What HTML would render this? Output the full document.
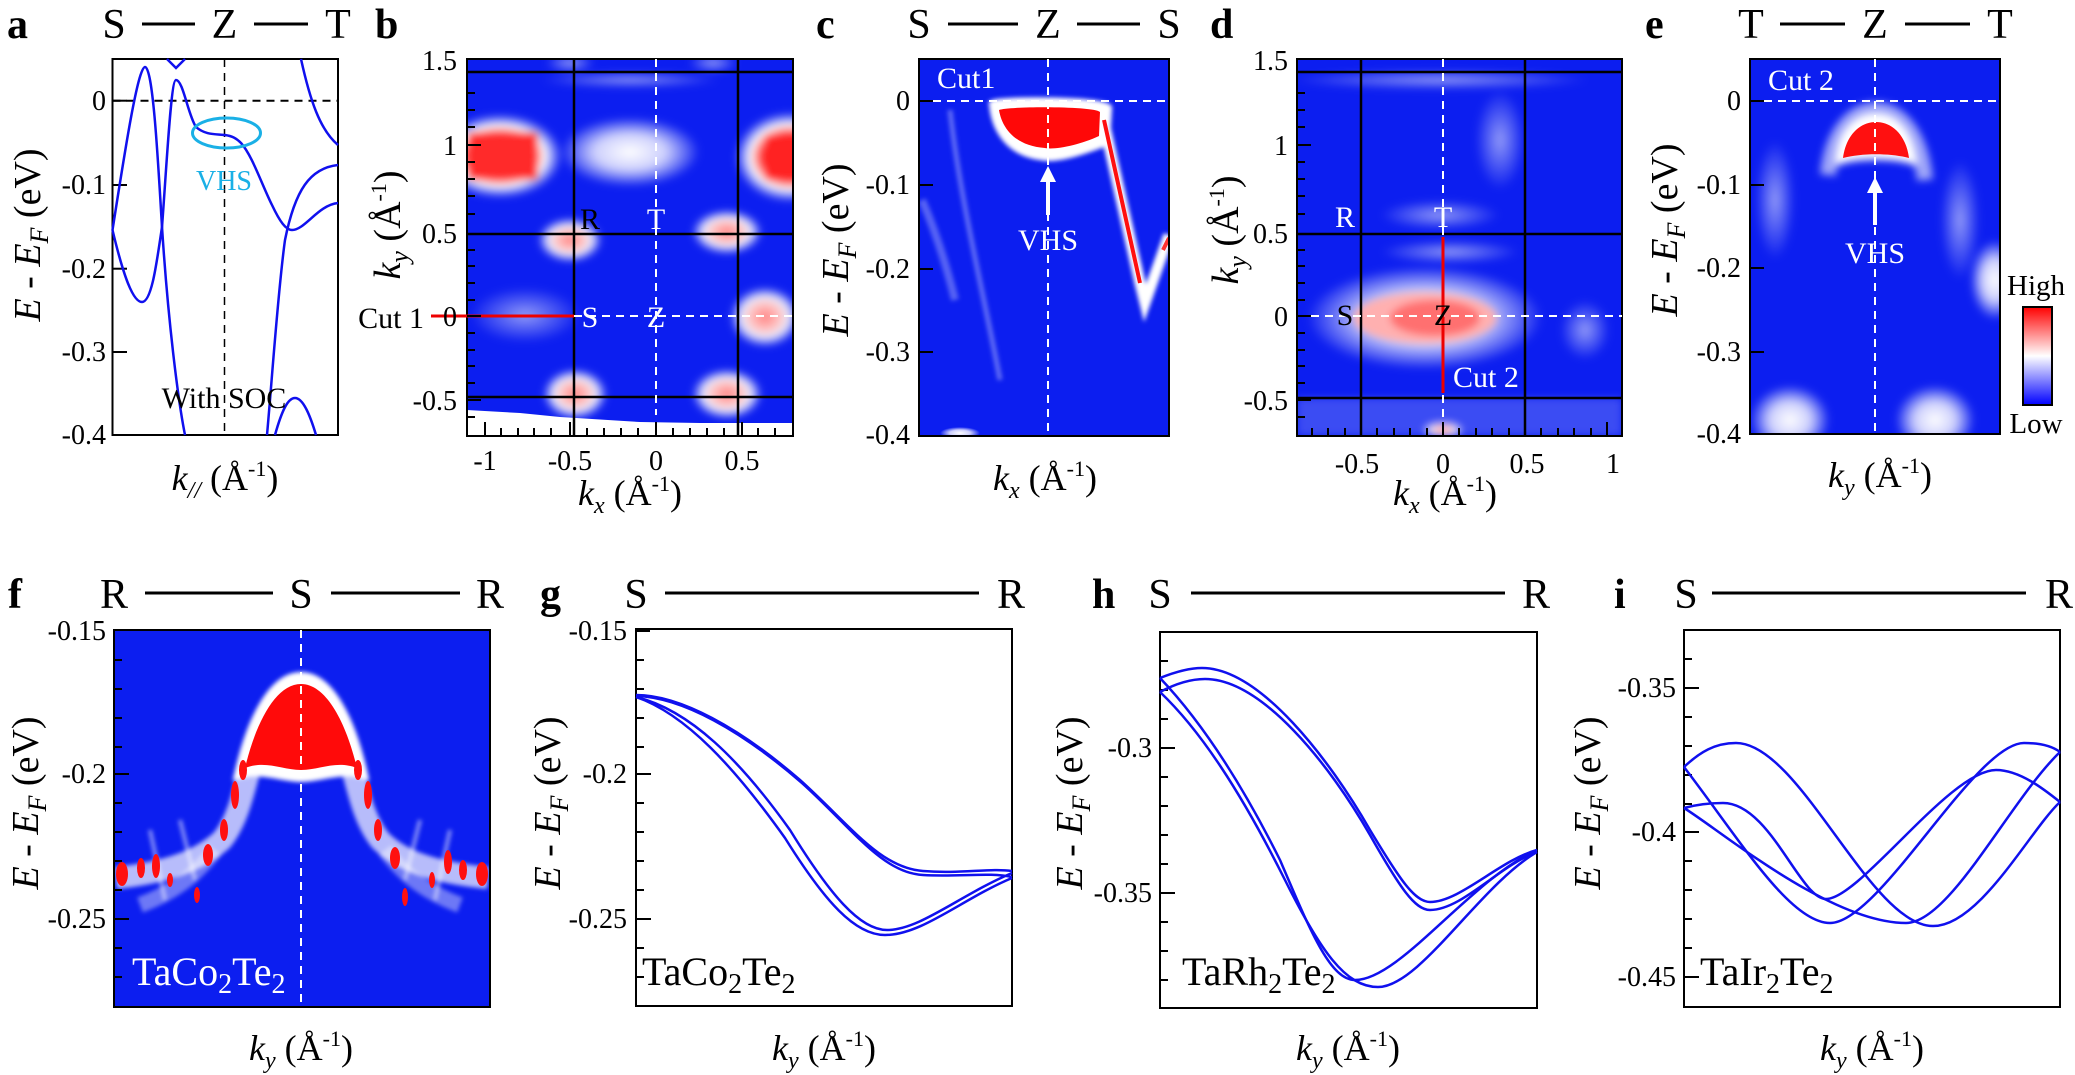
<!DOCTYPE html>
<html><head><meta charset="utf-8"><style>
html,body{margin:0;padding:0;background:#fff}
svg{display:block}
svg text{font-family:"Liberation Serif","DejaVu Serif",serif}
</style></head><body>
<svg width="2075" height="1075" viewBox="0 0 2075 1075" xmlns="http://www.w3.org/2000/svg" font-family="'Liberation Serif', 'DejaVu Serif', serif">
<defs>
<radialGradient id="hot"><stop offset="0" stop-color="#ff1010"/><stop offset="0.5" stop-color="#ff2020"/><stop offset="0.72" stop-color="#ffffff"/><stop offset="1" stop-color="#ffffff" stop-opacity="0"/></radialGradient>
<radialGradient id="pink"><stop offset="0" stop-color="#ff8080"/><stop offset="0.45" stop-color="#ffc8c8"/><stop offset="0.7" stop-color="#ffffff" stop-opacity="0.9"/><stop offset="1" stop-color="#ffffff" stop-opacity="0"/></radialGradient>
<radialGradient id="wht"><stop offset="0" stop-color="#ffffff"/><stop offset="0.5" stop-color="#f0f0ff" stop-opacity="0.85"/><stop offset="1" stop-color="#ffffff" stop-opacity="0"/></radialGradient>
<radialGradient id="faint"><stop offset="0" stop-color="#ffffff" stop-opacity="0.55"/><stop offset="1" stop-color="#ffffff" stop-opacity="0"/></radialGradient>
<linearGradient id="cbar" x1="0" y1="0" x2="0" y2="1"><stop offset="0" stop-color="#ff0000"/><stop offset="0.5" stop-color="#ffffff"/><stop offset="1" stop-color="#0000ff"/></linearGradient>
<filter id="blur" x="-20%" y="-20%" width="140%" height="140%"><feGaussianBlur stdDeviation="4"/></filter>
<filter id="blur2" x="-20%" y="-20%" width="140%" height="140%"><feGaussianBlur stdDeviation="2"/></filter>
<clipPath id="cb"><rect x="467" y="59" width="326" height="377"/></clipPath>
<clipPath id="cc"><rect x="919" y="59" width="250" height="377"/></clipPath>
<clipPath id="cd"><rect x="1297" y="59" width="325" height="377"/></clipPath>
<clipPath id="ce"><rect x="1750" y="59" width="250" height="375"/></clipPath>
<clipPath id="cf"><rect x="114" y="630" width="376" height="377"/></clipPath>
</defs>

<!-- ============ Panel a ============ -->
<g font-size="42">
<text x="7" y="38" font-weight="bold">a</text>
<text x="114" y="38" text-anchor="middle">S</text>
<text x="224.5" y="38" text-anchor="middle">Z</text>
<text x="338" y="38" text-anchor="middle">T</text>
</g>
<line x1="142" y1="24" x2="195" y2="24" stroke="#000" stroke-width="3"/>
<line x1="254" y1="24" x2="308" y2="24" stroke="#000" stroke-width="3"/>
<rect x="112.5" y="59" width="225.5" height="376" fill="none" stroke="#000" stroke-width="2"/>
<line x1="112.5" y1="100.7" x2="338" y2="100.7" stroke="#000" stroke-width="2" stroke-dasharray="8,6"/>
<line x1="224.5" y1="59" x2="224.5" y2="435" stroke="#000" stroke-width="1.5" stroke-dasharray="8,6"/>
<g stroke="#000" stroke-width="2">
<line x1="112.5" y1="100.7" x2="127" y2="100.7"/><line x1="112.5" y1="185" x2="127" y2="185"/><line x1="112.5" y1="268.7" x2="127" y2="268.7"/><line x1="112.5" y1="352" x2="127" y2="352"/>
</g>
<g font-size="28" text-anchor="end">
<text x="106" y="110">0</text><text x="106" y="194">-0.1</text><text x="106" y="278">-0.2</text><text x="106" y="361">-0.3</text><text x="106" y="444">-0.4</text>
</g>
<g fill="none" stroke="#1010ee" stroke-width="2.5">
<path d="M112.5,230 C125,150 138,67 145,67 C153,67 158,160 162,227 C168,320 178,400 185,435"/>
<path d="M112.5,230 C122,270 132,302 142,302 C152,302 157,260 162,227 C167,160 171,80 176,80 C183,80 188,115 196,127 C205,135 215,134 225,135 C232,136 236,138 241,143 C252,155 262,185 272,205 C280,222 286,230 292,230 C305,230 318,205 338,203"/>
<path d="M167,59 L176,68 L185,59"/>
<path d="M301,59 C310,100 320,130 338,145"/>
<path d="M338,165 C310,168 295,190 285,240 C278,290 272,380 267,435"/>
<path d="M275,435 C282,410 288,398 295,398 C303,398 310,415 316,435"/>
</g>
<ellipse cx="226.5" cy="133" rx="34" ry="15" fill="none" stroke="#1ab0e6" stroke-width="3"/>
<text x="224" y="190" font-size="28" fill="#1ab0e6" text-anchor="middle">VHS</text>
<text x="224" y="408" font-size="30" text-anchor="middle">With SOC</text>
<text transform="translate(40,235) rotate(-90)" font-size="38" text-anchor="middle"><tspan font-style="italic">E</tspan> - <tspan font-style="italic">E</tspan><tspan font-style="italic" font-size="26" dy="8">F</tspan><tspan dy="-8"> (eV)</tspan></text>
<text x="225" y="490" font-size="36" text-anchor="middle"><tspan font-style="italic">k</tspan><tspan font-style="italic" font-size="24" dy="8">//</tspan><tspan dy="-8"> (Å</tspan><tspan font-size="22" dy="-14">-1</tspan><tspan dy="14">)</tspan></text>

<!-- ============ Panel b ============ -->
<text x="375" y="38" font-size="42" font-weight="bold">b</text>
<g clip-path="url(#cb)">
<rect x="467" y="59" width="326" height="377" fill="#0c1ef0"/>
<g filter="url(#blur)">
<ellipse cx="500" cy="156" rx="62" ry="42" fill="url(#hot)"/>
<rect x="468" y="132" width="70" height="48" fill="#ff2a2a"/>
<ellipse cx="790" cy="157" rx="55" ry="45" fill="url(#hot)"/>
<rect x="765" y="135" width="30" height="45" fill="#ff2020"/>
<ellipse cx="630" cy="152" rx="70" ry="35" fill="url(#wht)"/>
<ellipse cx="570" cy="240" rx="32" ry="22" fill="url(#pink)"/>
<ellipse cx="727" cy="232" rx="35" ry="22" fill="url(#pink)"/>
<ellipse cx="575" cy="394" rx="32" ry="25" fill="url(#pink)"/>
<ellipse cx="727" cy="394" rx="35" ry="25" fill="url(#pink)"/>
<ellipse cx="765" cy="317" rx="35" ry="30" fill="url(#pink)"/>
<ellipse cx="525" cy="315" rx="55" ry="28" fill="url(#faint)"/>
<ellipse cx="570" cy="63" rx="25" ry="10" fill="url(#faint)"/>
<ellipse cx="713" cy="63" rx="25" ry="10" fill="url(#faint)"/>
<ellipse cx="630" cy="80" rx="90" ry="8" fill="url(#faint)"/>
</g>
<polygon points="467,410 520,413 560,417 640,422 700,423 793,423 793,436 467,436" fill="#fff"/>
</g>
<rect x="467" y="59" width="326" height="377" fill="none" stroke="#000" stroke-width="2"/>
<g stroke="#000" stroke-width="2.5">
<line x1="574" y1="59" x2="574" y2="436"/><line x1="738" y1="59" x2="738" y2="436"/>
<line x1="467" y1="72" x2="793" y2="72"/><line x1="467" y1="234" x2="793" y2="234"/><line x1="467" y1="397" x2="793" y2="397"/>
</g>
<line x1="656" y1="59" x2="656" y2="415" stroke="#fff" stroke-width="2" stroke-dasharray="8,6"/>
<line x1="574" y1="316" x2="793" y2="316" stroke="#fff" stroke-width="2" stroke-dasharray="8,6"/>
<line x1="431" y1="316" x2="574" y2="316" stroke="#e00" stroke-width="3"/>
<g stroke="#000" stroke-width="2">
<path d="M467,93h8M467,110h8M467,127h8M467,145h14M467,162h8M467,179h8M467,196h8M467,214h8M467,234h14M467,250h8M467,266h8M467,283h8M467,300h8M467,316h14M467,333h8M467,350h8M467,366h8M467,383h8M467,400h14M467,417h8"/>
<path d="M485,436v-14M501,436v-8M518,436v-8M534,436v-8M551,436v-8M570,436v-14M587,436v-8M604,436v-8M621,436v-8M638,436v-8M656,436v-14M673,436v-8M690,436v-8M707,436v-8M724,436v-8M742,436v-14M758,436v-8M775,436v-8"/>
</g>
<text x="424" y="328" font-size="30" text-anchor="end">Cut 1</text>
<g font-size="28" text-anchor="end">
<text x="457" y="70">1.5</text><text x="457" y="155">1</text><text x="457" y="243">0.5</text><text x="457" y="326">0</text><text x="457" y="410">-0.5</text>
</g>
<g font-size="28" text-anchor="middle">
<text x="485" y="470">-1</text><text x="570" y="470">-0.5</text><text x="656" y="470">0</text><text x="742" y="470">0.5</text>
</g>
<g font-size="30" text-anchor="middle">
<text x="590" y="229">R</text><text x="656" y="229" fill="#fff">T</text>
<text x="590" y="327" fill="#fff">S</text><text x="656" y="327" fill="#fff">Z</text>
</g>
<text transform="translate(400,225) rotate(-90)" font-size="38" text-anchor="middle"><tspan font-style="italic">k</tspan><tspan font-style="italic" font-size="26" dy="8">y</tspan><tspan dy="-8"> (Å</tspan><tspan font-size="22" dy="-14">-1</tspan><tspan dy="14">)</tspan></text>
<text x="630" y="505" font-size="36" text-anchor="middle"><tspan font-style="italic">k</tspan><tspan font-style="italic" font-size="24" dy="8">x</tspan><tspan dy="-8"> (Å</tspan><tspan font-size="22" dy="-14">-1</tspan><tspan dy="14">)</tspan></text>

<!-- ============ Panel c ============ -->
<g font-size="42">
<text x="816" y="38" font-weight="bold">c</text>
<text x="919" y="38" text-anchor="middle">S</text>
<text x="1048" y="38" text-anchor="middle">Z</text>
<text x="1169" y="38" text-anchor="middle">S</text>
</g>
<line x1="948" y1="24" x2="1018" y2="24" stroke="#000" stroke-width="3"/>
<line x1="1077" y1="24" x2="1140" y2="24" stroke="#000" stroke-width="3"/>
<g clip-path="url(#cc)">
<rect x="919" y="59" width="250" height="377" fill="#0c1ef0"/>
<g filter="url(#blur2)">
<path d="M950,110 C960,200 985,300 1000,380" stroke="#fff" stroke-opacity="0.35" stroke-width="5" fill="none"/>
<path d="M922,200 C935,230 945,260 955,300" stroke="#fff" stroke-opacity="0.3" stroke-width="8" fill="none"/>
<path d="M993,104 C1000,100 1100,100 1108,108 L1106,142 C1080,152 1055,160 1040,156 C1010,152 995,130 993,104 Z" fill="#fff" stroke="#fff" stroke-width="8"/>
<path d="M1103,118 L1140,283 L1145,303 L1169,235" stroke="#fff" stroke-width="11" fill="none"/>
</g>
<path d="M999,110 C1010,106 1095,106 1100,112 L1099,136 C1080,145 1055,150 1045,148 C1015,146 1002,128 999,110 Z" fill="#ff0808"/>
<path d="M1104,120 L1140,283" stroke="#ff1010" stroke-width="4" fill="none"/>
<path d="M1163,250 L1169,238" stroke="#ff3030" stroke-width="4" fill="none"/>
<ellipse cx="960" cy="433" rx="20" ry="6" fill="url(#wht)"/>
</g>
<rect x="919" y="59" width="250" height="377" fill="none" stroke="#000" stroke-width="2"/>
<line x1="919" y1="101" x2="1169" y2="101" stroke="#fff" stroke-width="2" stroke-dasharray="8,6"/>
<line x1="1048" y1="59" x2="1048" y2="436" stroke="#fff" stroke-width="2" stroke-dasharray="8,6"/>
<line x1="1048" y1="215" x2="1048" y2="180" stroke="#fff" stroke-width="4"/>
<polygon points="1048,166 1040,182 1056,182" fill="#fff"/>
<text x="1048" y="250" font-size="30" fill="#fff" text-anchor="middle">VHS</text>
<text x="937" y="88" font-size="30" fill="#fff">Cut1</text>
<g stroke="#000" stroke-width="2"><path d="M919,101h14M919,185h14M919,269h14M919,352h14"/></g>
<g font-size="28" text-anchor="end">
<text x="910" y="110">0</text><text x="910" y="194">-0.1</text><text x="910" y="278">-0.2</text><text x="910" y="361">-0.3</text><text x="910" y="444">-0.4</text>
</g>
<text transform="translate(848,250) rotate(-90)" font-size="38" text-anchor="middle"><tspan font-style="italic">E</tspan> - <tspan font-style="italic">E</tspan><tspan font-style="italic" font-size="26" dy="8">F</tspan><tspan dy="-8"> (eV)</tspan></text>
<text x="1045" y="490" font-size="36" text-anchor="middle"><tspan font-style="italic">k</tspan><tspan font-style="italic" font-size="24" dy="8">x</tspan><tspan dy="-8"> (Å</tspan><tspan font-size="22" dy="-14">-1</tspan><tspan dy="14">)</tspan></text>

<!-- ============ Panel d ============ -->
<text x="1210" y="38" font-size="42" font-weight="bold">d</text>
<g clip-path="url(#cd)">
<rect x="1297" y="59" width="325" height="377" fill="#0c1ef0"/>
<g filter="url(#blur)">
<rect x="1297" y="398" width="325" height="38" fill="#5a6af5" opacity="0.6"/>
<ellipse cx="1440" cy="80" rx="150" ry="10" fill="url(#faint)"/>
<ellipse cx="1500" cy="140" rx="25" ry="50" fill="url(#faint)"/>
<ellipse cx="1440" cy="215" rx="60" ry="15" fill="url(#faint)"/>
<ellipse cx="1450" cy="252" rx="70" ry="12" fill="url(#faint)"/>
<ellipse cx="1585" cy="330" rx="25" ry="30" fill="url(#faint)"/>
<ellipse cx="1425" cy="318" rx="118" ry="52" fill="url(#wht)"/>
<ellipse cx="1425" cy="318" rx="72" ry="26" fill="#ffb0b0"/>
<ellipse cx="1435" cy="318" rx="45" ry="18" fill="#ff7070"/>
<ellipse cx="1443" cy="430" rx="20" ry="8" fill="url(#pink)"/>
</g>
</g>
<rect x="1297" y="59" width="325" height="377" fill="none" stroke="#000" stroke-width="2"/>
<g stroke="#000" stroke-width="2.5">
<line x1="1361" y1="59" x2="1361" y2="436"/><line x1="1525" y1="59" x2="1525" y2="436"/>
<line x1="1297" y1="72" x2="1622" y2="72"/><line x1="1297" y1="234" x2="1622" y2="234"/><line x1="1297" y1="398" x2="1622" y2="398"/>
</g>
<line x1="1443" y1="59" x2="1443" y2="436" stroke="#fff" stroke-width="2" stroke-dasharray="8,6"/>
<line x1="1297" y1="316" x2="1622" y2="316" stroke="#fff" stroke-width="2" stroke-dasharray="8,6"/>
<line x1="1443" y1="237" x2="1443" y2="393" stroke="#e00" stroke-width="3"/>
<g stroke="#000" stroke-width="2">
<path d="M1297,93h8M1297,110h8M1297,127h8M1297,145h14M1297,162h8M1297,179h8M1297,196h8M1297,214h8M1297,234h14M1297,250h8M1297,266h8M1297,283h8M1297,300h8M1297,316h14M1297,333h8M1297,350h8M1297,366h8M1297,383h8M1297,400h14M1297,417h8"/>
<path d="M1312,436v-8M1328,436v-8M1345,436v-8M1361,436v-14M1377,436v-8M1394,436v-8M1410,436v-8M1427,436v-8M1443,436v-14M1459,436v-8M1476,436v-8M1492,436v-8M1509,436v-8M1525,436v-14M1541,436v-8M1558,436v-8M1574,436v-8M1591,436v-8M1607,436v-14"/>
</g>
<g font-size="28" text-anchor="end">
<text x="1288" y="70">1.5</text><text x="1288" y="155">1</text><text x="1288" y="243">0.5</text><text x="1288" y="326">0</text><text x="1288" y="410">-0.5</text>
</g>
<g font-size="28" text-anchor="middle">
<text x="1357" y="473">-0.5</text><text x="1443" y="473">0</text><text x="1527" y="473">0.5</text><text x="1613" y="473">1</text>
</g>
<g font-size="30" text-anchor="middle">
<text x="1345" y="227" fill="#fff">R</text><text x="1443" y="227" fill="#fff">T</text>
<text x="1345" y="325">S</text><text x="1443" y="325">Z</text>
</g>
<text x="1453" y="387" font-size="30" fill="#fff">Cut 2</text>
<text transform="translate(1238,230) rotate(-90)" font-size="38" text-anchor="middle"><tspan font-style="italic">k</tspan><tspan font-style="italic" font-size="26" dy="8">y</tspan><tspan dy="-8"> (Å</tspan><tspan font-size="22" dy="-14">-1</tspan><tspan dy="14">)</tspan></text>
<text x="1445" y="505" font-size="36" text-anchor="middle"><tspan font-style="italic">k</tspan><tspan font-style="italic" font-size="24" dy="8">x</tspan><tspan dy="-8"> (Å</tspan><tspan font-size="22" dy="-14">-1</tspan><tspan dy="14">)</tspan></text>

<!-- ============ Panel e ============ -->
<g font-size="42">
<text x="1645" y="38" font-weight="bold">e</text>
<text x="1751" y="38" text-anchor="middle">T</text>
<text x="1875" y="38" text-anchor="middle">Z</text>
<text x="2000" y="38" text-anchor="middle">T</text>
</g>
<line x1="1780" y1="24" x2="1845" y2="24" stroke="#000" stroke-width="3"/>
<line x1="1905" y1="24" x2="1970" y2="24" stroke="#000" stroke-width="3"/>
<g clip-path="url(#ce)">
<rect x="1750" y="59" width="250" height="375" fill="#0c1ef0"/>
<g filter="url(#blur)">
<path d="M1828,175 C1832,130 1855,110 1876,110 C1897,110 1920,130 1925,180" stroke="#fff" stroke-opacity="0.6" stroke-width="16" fill="none"/>
<path d="M1838,162 C1840,130 1858,116 1876,116 C1894,116 1910,130 1914,162 C1895,155 1858,155 1838,162 Z" fill="#fff" stroke="#fff" stroke-width="6"/>
<ellipse cx="1790" cy="420" rx="40" ry="35" fill="url(#wht)"/>
<ellipse cx="1935" cy="420" rx="40" ry="35" fill="url(#wht)"/>
<ellipse cx="1995" cy="280" rx="25" ry="40" fill="url(#wht)"/>
<ellipse cx="1775" cy="200" rx="20" ry="60" fill="url(#faint)"/>
<ellipse cx="1960" cy="220" rx="20" ry="60" fill="url(#faint)"/>
</g>
<path d="M1843,158 C1846,135 1860,122 1876,122 C1892,122 1906,135 1909,158 C1890,153 1862,153 1843,158 Z" fill="#ff1010"/>
</g>
<rect x="1750" y="59" width="250" height="375" fill="none" stroke="#000" stroke-width="2"/>
<line x1="1750" y1="101" x2="2000" y2="101" stroke="#fff" stroke-width="2" stroke-dasharray="8,6"/>
<line x1="1875" y1="59" x2="1875" y2="434" stroke="#fff" stroke-width="2" stroke-dasharray="8,6"/>
<line x1="1875" y1="225" x2="1875" y2="192" stroke="#fff" stroke-width="4"/>
<polygon points="1875,177 1867,193 1883,193" fill="#fff"/>
<text x="1875" y="263" font-size="30" fill="#fff" text-anchor="middle">VHS</text>
<text x="1768" y="90" font-size="30" fill="#fff">Cut 2</text>
<g stroke="#000" stroke-width="2"><path d="M1750,101h14M1750,185h14M1750,268h14M1750,352h14"/></g>
<g font-size="28" text-anchor="end">
<text x="1741" y="110">0</text><text x="1741" y="194">-0.1</text><text x="1741" y="277">-0.2</text><text x="1741" y="361">-0.3</text><text x="1741" y="443">-0.4</text>
</g>
<text transform="translate(1677,230) rotate(-90)" font-size="38" text-anchor="middle"><tspan font-style="italic">E</tspan> - <tspan font-style="italic">E</tspan><tspan font-style="italic" font-size="26" dy="8">F</tspan><tspan dy="-8"> (eV)</tspan></text>
<text x="1880" y="487" font-size="36" text-anchor="middle"><tspan font-style="italic">k</tspan><tspan font-style="italic" font-size="24" dy="8">y</tspan><tspan dy="-8"> (Å</tspan><tspan font-size="22" dy="-14">-1</tspan><tspan dy="14">)</tspan></text>
<rect x="2023" y="307" width="29" height="98" fill="url(#cbar)" stroke="#000" stroke-width="2"/>
<text x="2036" y="295" font-size="29" text-anchor="middle">High</text>
<text x="2036" y="433" font-size="29" text-anchor="middle">Low</text>

<!-- ============ Panel f ============ -->
<g font-size="42">
<text x="8" y="608" font-weight="bold">f</text>
<text x="114" y="608" text-anchor="middle">R</text>
<text x="301" y="608" text-anchor="middle">S</text>
<text x="490" y="608" text-anchor="middle">R</text>
</g>
<line x1="145" y1="593" x2="273" y2="593" stroke="#000" stroke-width="3"/>
<line x1="331" y1="593" x2="460" y2="593" stroke="#000" stroke-width="3"/>
<g clip-path="url(#cf)">
<rect x="114" y="630" width="376" height="377" fill="#0c1ef0"/>
<g filter="url(#blur2)">
<path d="M116,878 C170,872 200,860 222,840 C238,820 244,790 250,768 M488,878 C430,872 400,860 380,840 C364,820 358,790 352,768" stroke="#fff" stroke-width="22" fill="none" stroke-opacity="0.7"/>
<path d="M140,905 C180,890 200,870 215,850 M460,905 C420,890 400,870 385,850" stroke="#fff" stroke-width="16" fill="none" stroke-opacity="0.4"/>
<path d="M150,830 L165,900 M180,820 L195,880 M420,820 L405,880 M450,830 L435,900 M310,690 L320,760 M280,700 L290,760" stroke="#fff" stroke-width="4" fill="none" stroke-opacity="0.5"/>
<path d="M238,775 C250,720 272,676 301,676 C330,676 352,720 364,775 C340,768 320,778 301,778 C282,778 262,768 238,775 Z" fill="#fff" stroke="#fff" stroke-width="8"/>
</g>
<path d="M245,768 C256,722 276,684 301,684 C326,684 346,722 357,768 C336,760 320,770 301,770 C282,770 266,760 245,768 Z" fill="#ff0a0a"/>
<g fill="#ff1010">
<ellipse cx="122" cy="874" rx="6" ry="12"/><ellipse cx="141" cy="868" rx="4" ry="10"/><ellipse cx="156" cy="866" rx="4" ry="12"/><ellipse cx="170" cy="880" rx="3" ry="7"/>
<ellipse cx="197" cy="895" rx="3" ry="8"/><ellipse cx="208" cy="855" rx="5" ry="11"/><ellipse cx="224" cy="830" rx="4" ry="11"/><ellipse cx="235" cy="795" rx="4" ry="14"/><ellipse cx="243" cy="770" rx="4" ry="10"/>
<ellipse cx="482" cy="874" rx="6" ry="12"/><ellipse cx="463" cy="870" rx="4" ry="10"/><ellipse cx="448" cy="862" rx="4" ry="12"/><ellipse cx="432" cy="880" rx="3" ry="8"/>
<ellipse cx="405" cy="897" rx="3" ry="9"/><ellipse cx="395" cy="858" rx="5" ry="11"/><ellipse cx="378" cy="830" rx="4" ry="11"/><ellipse cx="368" cy="795" rx="4" ry="14"/><ellipse cx="358" cy="770" rx="4" ry="10"/>
</g>
</g>
<rect x="114" y="630" width="376" height="377" fill="none" stroke="#000" stroke-width="2"/>
<line x1="301" y1="630" x2="301" y2="1007" stroke="#fff" stroke-width="2" stroke-dasharray="8,6"/>
<g stroke="#000" stroke-width="2">
<path d="M114,660h8M114,689h8M114,718h8M114,747h8M114,774h15M114,803h8M114,832h8M114,861h8M114,890h8M114,919h15M114,948h8M114,977h8"/>
</g>
<g font-size="28" text-anchor="end">
<text x="106" y="640">-0.15</text><text x="106" y="783">-0.2</text><text x="106" y="928">-0.25</text>
</g>
<text x="132" y="985" font-size="40" fill="#fff">TaCo<tspan font-size="28" dy="8">2</tspan><tspan dy="-8">Te</tspan><tspan font-size="28" dy="8">2</tspan></text>
<text transform="translate(38,803) rotate(-90)" font-size="38" text-anchor="middle"><tspan font-style="italic">E</tspan> - <tspan font-style="italic">E</tspan><tspan font-style="italic" font-size="26" dy="8">F</tspan><tspan dy="-8"> (eV)</tspan></text>
<text x="301" y="1060" font-size="36" text-anchor="middle"><tspan font-style="italic">k</tspan><tspan font-style="italic" font-size="24" dy="8">y</tspan><tspan dy="-8"> (Å</tspan><tspan font-size="22" dy="-14">-1</tspan><tspan dy="14">)</tspan></text>

<!-- ============ Panel g ============ -->
<g font-size="42">
<text x="540" y="608" font-weight="bold">g</text>
<text x="636" y="608" text-anchor="middle">S</text>
<text x="1011" y="608" text-anchor="middle">R</text>
</g>
<line x1="665" y1="593" x2="979" y2="593" stroke="#000" stroke-width="3"/>
<rect x="636" y="629" width="376" height="377" fill="none" stroke="#000" stroke-width="2"/>
<g stroke="#000" stroke-width="2">
<path d="M636,631h14M636,660h8M636,689h8M636,718h8M636,747h8M636,774h15M636,803h8M636,832h8M636,861h8M636,890h8M636,919h15M636,948h8M636,977h8"/>
</g>
<g font-size="28" text-anchor="end">
<text x="627" y="640">-0.15</text><text x="627" y="783">-0.2</text><text x="627" y="928">-0.25</text>
</g>
<g fill="none" stroke="#1010ee" stroke-width="2.5">
<path d="M636,695 C680,695 740,728 800,780 C850,825 880,868 923,871 C960,874 990,868 1012,871"/>
<path d="M636,696 C682,697 742,731 802,783 C852,828 882,873 923,875 C960,877 990,872 1012,877"/>
<path d="M636,697 C690,710 740,760 790,830 C830,895 860,930 887,930 C920,930 960,895 1012,873"/>
<path d="M636,697 C686,714 735,768 785,838 C825,902 855,935 885,935 C922,935 962,899 1012,878"/>
</g>
<text x="642" y="985" font-size="40">TaCo<tspan font-size="28" dy="8">2</tspan><tspan dy="-8">Te</tspan><tspan font-size="28" dy="8">2</tspan></text>
<text transform="translate(560,803) rotate(-90)" font-size="38" text-anchor="middle"><tspan font-style="italic">E</tspan> - <tspan font-style="italic">E</tspan><tspan font-style="italic" font-size="26" dy="8">F</tspan><tspan dy="-8"> (eV)</tspan></text>
<text x="824" y="1060" font-size="36" text-anchor="middle"><tspan font-style="italic">k</tspan><tspan font-style="italic" font-size="24" dy="8">y</tspan><tspan dy="-8"> (Å</tspan><tspan font-size="22" dy="-14">-1</tspan><tspan dy="14">)</tspan></text>

<!-- ============ Panel h ============ -->
<g font-size="42">
<text x="1092" y="608" font-weight="bold">h</text>
<text x="1160" y="608" text-anchor="middle">S</text>
<text x="1536" y="608" text-anchor="middle">R</text>
</g>
<line x1="1191" y1="593" x2="1505" y2="593" stroke="#000" stroke-width="3"/>
<rect x="1160" y="632" width="377" height="376" fill="none" stroke="#000" stroke-width="2"/>
<g stroke="#000" stroke-width="2">
<path d="M1160,661h8M1160,690h8M1160,719h8M1160,748h15M1160,777h8M1160,806h8M1160,835h8M1160,864h8M1160,893h15M1160,922h8M1160,951h8M1160,980h8"/>
</g>
<g font-size="28" text-anchor="end">
<text x="1152" y="757">-0.3</text><text x="1152" y="902">-0.35</text>
</g>
<g fill="none" stroke="#1010ee" stroke-width="2.5">
<path d="M1160,678 C1175,672 1190,668 1202,668 C1260,668 1330,760 1370,830 C1400,880 1415,902 1430,902 C1460,902 1500,860 1537,850"/>
<path d="M1160,692 C1175,684 1190,679 1205,679 C1262,679 1330,765 1370,835 C1400,888 1415,910 1430,910 C1462,910 1500,865 1537,852"/>
<path d="M1160,678 C1200,720 1240,780 1280,860 C1310,930 1330,980 1355,980 C1400,980 1470,880 1537,850"/>
<path d="M1160,692 C1200,730 1240,790 1285,880 C1320,950 1345,987 1378,987 C1420,987 1480,885 1537,852"/>
</g>
<text x="1182" y="985" font-size="40">TaRh<tspan font-size="28" dy="8">2</tspan><tspan dy="-8">Te</tspan><tspan font-size="28" dy="8">2</tspan></text>
<text transform="translate(1082,803) rotate(-90)" font-size="38" text-anchor="middle"><tspan font-style="italic">E</tspan> - <tspan font-style="italic">E</tspan><tspan font-style="italic" font-size="26" dy="8">F</tspan><tspan dy="-8"> (eV)</tspan></text>
<text x="1348" y="1060" font-size="36" text-anchor="middle"><tspan font-style="italic">k</tspan><tspan font-style="italic" font-size="24" dy="8">y</tspan><tspan dy="-8"> (Å</tspan><tspan font-size="22" dy="-14">-1</tspan><tspan dy="14">)</tspan></text>

<!-- ============ Panel i ============ -->
<g font-size="42">
<text x="1614" y="608" font-weight="bold">i</text>
<text x="1686" y="608" text-anchor="middle">S</text>
<text x="2059" y="608" text-anchor="middle">R</text>
</g>
<line x1="1712" y1="593" x2="2026" y2="593" stroke="#000" stroke-width="3"/>
<rect x="1684" y="630" width="376" height="377" fill="none" stroke="#000" stroke-width="2"/>
<g stroke="#000" stroke-width="2">
<path d="M1684,659h8M1684,688h15M1684,717h8M1684,746h8M1684,775h8M1684,804h8M1684,832h15M1684,861h8M1684,890h8M1684,919h8M1684,948h8M1684,977h15"/>
</g>
<g font-size="28" text-anchor="end">
<text x="1676" y="697">-0.35</text><text x="1676" y="841">-0.4</text><text x="1676" y="986">-0.45</text>
</g>
<g fill="none" stroke="#1010ee" stroke-width="2.5">
<path d="M1684,767 C1740,840 1790,923 1830,923 C1880,923 1975,743 2024,743 C2040,743 2052,746 2060,752"/>
<path d="M1684,767 C1700,752 1715,743 1736,743 C1800,743 1870,926 1933,926 C1980,926 2030,830 2060,802"/>
<path d="M1684,808 C1695,805 1708,803 1723,803 C1770,803 1800,899 1826,899 C1860,899 1950,770 1996,770 C2020,770 2045,790 2060,802"/>
<path d="M1684,808 C1720,830 1830,923 1906,923 C1950,923 2010,800 2060,752"/>
</g>
<text x="1700" y="985" font-size="40">TaIr<tspan font-size="28" dy="8">2</tspan><tspan dy="-8">Te</tspan><tspan font-size="28" dy="8">2</tspan></text>
<text transform="translate(1600,803) rotate(-90)" font-size="38" text-anchor="middle"><tspan font-style="italic">E</tspan> - <tspan font-style="italic">E</tspan><tspan font-style="italic" font-size="26" dy="8">F</tspan><tspan dy="-8"> (eV)</tspan></text>
<text x="1872" y="1060" font-size="36" text-anchor="middle"><tspan font-style="italic">k</tspan><tspan font-style="italic" font-size="24" dy="8">y</tspan><tspan dy="-8"> (Å</tspan><tspan font-size="22" dy="-14">-1</tspan><tspan dy="14">)</tspan></text>
</svg>
</body></html>
